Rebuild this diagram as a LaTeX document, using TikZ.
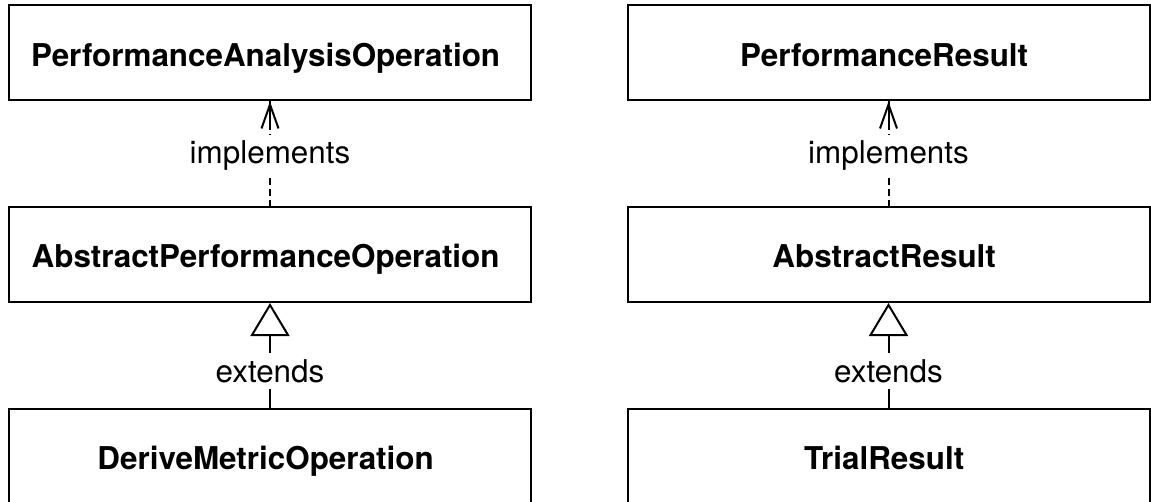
\documentclass[tikz,border=0pt]{standalone}
\usepackage{fontspec}
\setmainfont{TeX Gyre Heros}
\usetikzlibrary{arrows.meta}

\begin{document}
\begin{tikzpicture}[x=0.5pt,y=-0.5pt,
	classbox/.style={draw=black, line width=1pt, minimum width=261pt, minimum height=47.5pt,
		text height=13.2pt, text depth=0pt, align=center,
		font=\fontsize{15.7}{18}\selectfont\bfseries},
	relname/.style={fill=white, inner sep=3pt, font=\fontsize{15.7}{18}\selectfont},
	implements/.style={line width=1pt, dash pattern=on 3.5pt off 2pt,
		postaction={draw, solid, shorten >=41pt,
			{Straight Barb[length=12pt, width=8.5pt, line width=1pt]}-}},
	extends/.style={line width=1pt, -{Triangle[open, length=16.5pt, width=19.5pt, line width=1pt]}}]
	\useasboundingbox (0,0) rectangle (1151,502);

	% left column
	\draw (270,53) node[classbox] (perfop)
	{
		PerformanceAnalysisOperation
	};
	\draw (270,254.5) node[classbox] (absop)
	{
		AbstractPerformanceOperation
	};
	\draw (270,456) node[classbox] (deriveop)
	{
		DeriveMetricOperation
	};

	% right column
	\draw (888.5,53) node[classbox] (perfres)
	{
		PerformanceResult
	};
	\draw (888.5,254.5) node[classbox] (absres)
	{
		AbstractResult
	};
	\draw (888.5,456) node[classbox] (trialres)
	{
		TrialResult
	};

	\draw [implements] (perfop) -- node[relname, pos=0.52] {implements} (absop);
	\draw [implements] (perfres) -- node[relname, pos=0.52] {implements} (absres);
	\draw [extends] (deriveop) -- node[relname, pos=0.35] {extends} (absop);
	\draw [extends] (trialres) -- node[relname, pos=0.35] {extends} (absres);
\end{tikzpicture}
\end{document}
